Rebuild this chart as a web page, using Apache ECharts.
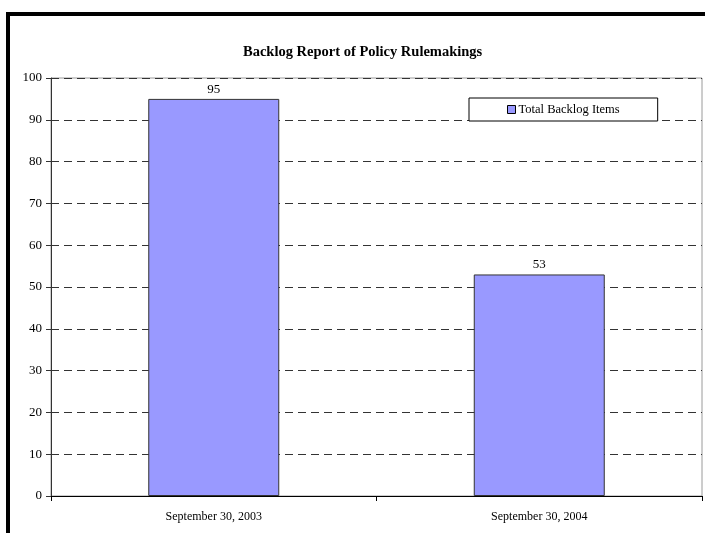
<!DOCTYPE html>
<html>
<head>
<meta charset="utf-8">
<script src="https://cdn.jsdelivr.net/npm/echarts@6/dist/echarts.min.js"></script>
<style>
  html, body { margin: 0; padding: 0; background: #fff; }
  #chart { width: 705px; height: 533px; }
</style>
</head>
<body>
<div id="chart"></div>
<script>
// Backlog counts at the end of each fiscal year
const categories = ['September 30, 2003', 'September 30, 2004'];
const backlogItems = [95, 53];
const seriesName = 'Total Backlog Items';
const chartTitle = 'Backlog Report of Policy Rulemakings';

const serif = '"Liberation Serif", "Times New Roman", serif';
const chart = echarts.init(document.getElementById('chart'), null, { renderer: 'canvas' });

chart.setOption({
  backgroundColor: '#ffffff',
  animation: false,
  title: {
    text: chartTitle,
    left: 238,
    top: 40,
    textStyle: { fontFamily: serif, fontSize: 14.5, fontWeight: 'bold', color: '#000' }
  },
  legend: {
    data: [seriesName],
    left: 469,
    top: 98,
    padding: [5, 38],
    itemWidth: 8,
    itemHeight: 8,
    itemGap: 0,
    borderColor: '#000',
    borderWidth: 1,
    backgroundColor: '#fff',
    icon: 'rect',
    itemStyle: { borderColor: '#000', borderWidth: 1 },
    textStyle: { fontFamily: serif, fontSize: 12.5, color: '#000', padding: [0, 0, 0, -2] }
  },
  grid: {
    left: 51,
    right: 3,
    top: 78,
    bottom: 37,
    show: true,
    borderColor: '#9a9a9a',
    borderWidth: 1,
    containLabel: false
  },
  xAxis: {
    type: 'category',
    data: categories,
    boundaryGap: true,
    axisLine: { lineStyle: { color: '#000', width: 1 } },
    axisTick: { show: true, interval: 0, length: 5, lineStyle: { color: '#000' } },
    axisLabel: { fontFamily: serif, fontSize: 12, color: '#000', margin: 15, interval: 0 }
  },
  yAxis: {
    type: 'value',
    min: 0,
    max: 100,
    interval: 10,
    axisLine: { show: true, lineStyle: { color: '#333', width: 1 } },
    axisTick: { show: true, length: 5, lineStyle: { color: '#333' } },
    axisLabel: { fontFamily: serif, fontSize: 13, color: '#000', margin: 9 },
    splitLine: { show: true, lineStyle: { color: '#333', width: 1, type: [8, 5] } }
  },
  series: [{
    name: seriesName,
    type: 'bar',
    data: backlogItems,
    barWidth: 131,
    itemStyle: { color: '#9999ff', borderColor: '#333', borderWidth: 1 },
    label: {
      show: true,
      position: 'top',
      distance: 3,
      fontFamily: serif,
      fontSize: 13,
      color: '#000'
    }
  }],
  graphic: [
    // heavy frame along the top and left edges
    { type: 'rect', shape: { x: 6, y: 12, width: 699, height: 4 }, style: { fill: '#000' }, silent: true },
    { type: 'rect', shape: { x: 6, y: 12, width: 4, height: 521 }, style: { fill: '#000' }, silent: true }
  ]
});
</script>
</body>
</html>
